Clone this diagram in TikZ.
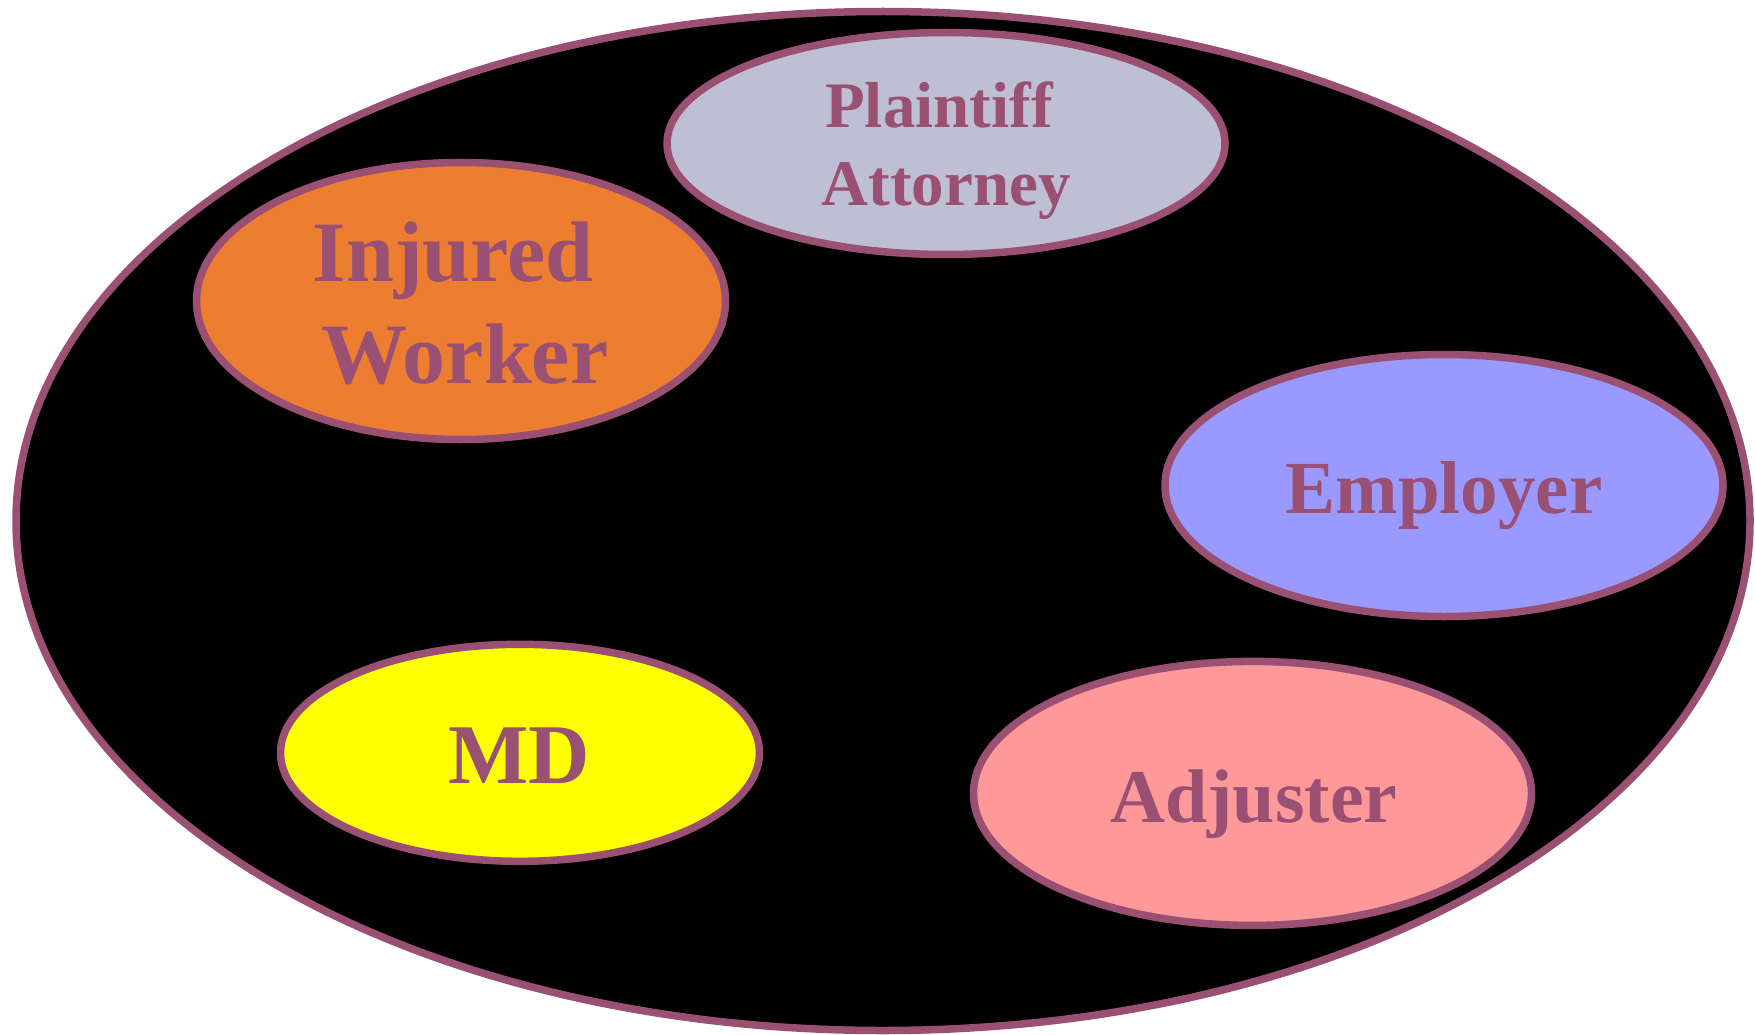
\documentclass[tikz,border=0pt]{standalone}
\usepackage{fontspec}
\setmainfont{Liberation Serif}
\usetikzlibrary{shapes.geometric}
\definecolor{plum}{RGB}{153,80,115}
\definecolor{fillpa}{RGB}{191,191,212}
\definecolor{filliw}{RGB}{237,125,49}
\definecolor{fillem}{RGB}{153,153,255}
\definecolor{fillmd}{RGB}{255,255,0}
\definecolor{fillad}{RGB}{255,153,153}
\tikzset{
  blob/.style={ellipse, draw=plum, line width=7.5pt, inner sep=0pt},
  lbl/.style={text=plum, anchor=base, inner sep=0pt},
}
\newcommand{\lblfont}[1]{\fontsize{#1}{#1}\selectfont\bfseries}
\begin{document}
\begin{tikzpicture}[x=1pt,y=-1pt]
\useasboundingbox[fill=white] (0,0) rectangle (1755,1035);
\node[blob, fill=black, minimum width=1734pt, minimum height=1019pt] (outer) at (883,521) {};
\node[blob, fill=fillpa, minimum width=558pt, minimum height=222pt] (pa) at (946,143.5) {};
\node[blob, fill=filliw, minimum width=529pt, minimum height=277pt] (iw) at (461,301) {};
\node[blob, fill=fillem, minimum width=558pt, minimum height=262pt] (em) at (1444,485.5) {};
\node[blob, fill=fillmd, minimum width=479pt, minimum height=217pt] (md) at (520,752.8) {};
\node[blob, fill=fillad, minimum width=558pt, minimum height=264pt] (ad) at (1252.5,793.4) {};
\node[lbl, font=\lblfont{65}] (pa1) at (939,128) {Plaintiff};
\node[lbl, font=\lblfont{65}] (pa2) at (946,205) {Attorney};
\node[lbl, font=\lblfont{86}] (iw1) at (453,281) {Injured};
\node[lbl, font=\lblfont{86}] (iw2) at (465,383) {Worker};
\node[lbl, font=\lblfont{75}] (em1) at (1444,513) {Employer};
\node[lbl, font=\lblfont{85}] (md1) at (519,783) {MD};
\node[lbl, font=\lblfont{76}] (ad1) at (1254,822) {Adjuster};
\end{tikzpicture}
\end{document}
